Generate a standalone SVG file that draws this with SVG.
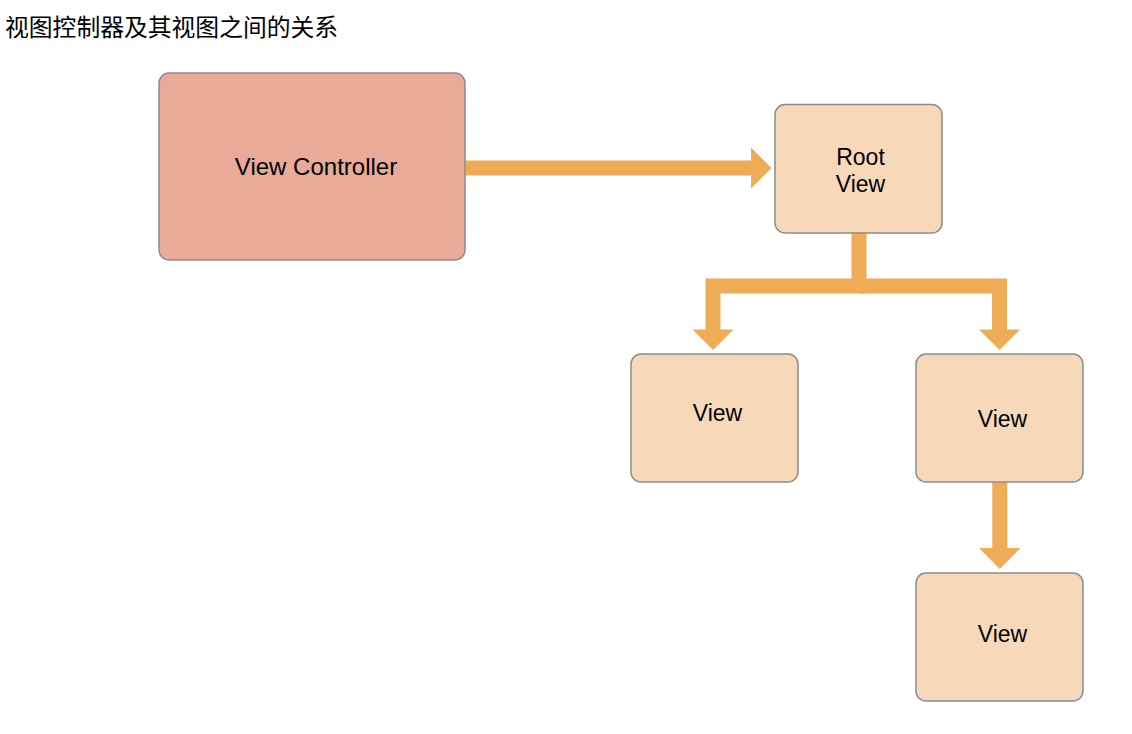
<svg xmlns="http://www.w3.org/2000/svg" width="1132" height="734" viewBox="0 0 1132 734">
<style>
.box{stroke:#8C8C8C;stroke-width:1.5}
.vc{fill:#E9AB98}
.lv{fill:#F7D9B9}
.lbl{font-family:"Liberation Sans",Arial,sans-serif;fill:#000;text-anchor:middle}
.shaft{fill:none;stroke:#EDAC55;stroke-width:15;stroke-linejoin:miter;stroke-linecap:butt}
.head{fill:#EDAC55}
</style>
<rect width="1132" height="734" fill="#fff"/>
<text x="5" y="36" font-family="'Noto Sans CJK SC',sans-serif" font-size="23.8" fill="#000">视图控制器及其视图之间的关系</text>
<g id="connectors">
<path class="shaft" d="M465,168 H752"/>
<polygon class="head" points="751,147.5 771.5,168 751,188.5"/>
<path class="shaft" d="M859,233 V286 H713 V330"/>
<path class="shaft" d="M859,286 H999.5 V330"/>
<polygon class="head" points="692.5,329.5 733.5,329.5 713,350"/>
<polygon class="head" points="979,329.5 1020,329.5 999.5,350"/>
<path class="shaft" d="M999.8,482 V549"/>
<polygon class="head" points="979,548 1020.5,548 999.8,569"/>
</g>
<g id="view-controller">
<rect class="box vc" x="159" y="73" width="306" height="187" rx="10"/>
<text class="lbl" x="316" y="175" font-size="24">View Controller</text>
</g>
<g id="root-view">
<rect class="box lv" x="775" y="104.5" width="167" height="128.5" rx="10"/>
<text class="lbl" x="860.5" y="165" font-size="23">Root</text>
<text class="lbl" x="860.5" y="191.5" font-size="23">View</text>
</g>
<g id="view-1">
<rect class="box lv" x="631" y="354" width="167" height="128" rx="10"/>
<text class="lbl" x="717.5" y="421" font-size="23">View</text>
</g>
<g id="view-2">
<rect class="box lv" x="916" y="354" width="167" height="128" rx="10"/>
<text class="lbl" x="1002.5" y="426.5" font-size="23">View</text>
</g>
<g id="view-3">
<rect class="box lv" x="916" y="573" width="167" height="128" rx="10"/>
<text class="lbl" x="1002.5" y="641.5" font-size="23">View</text>
</g>
</svg>
